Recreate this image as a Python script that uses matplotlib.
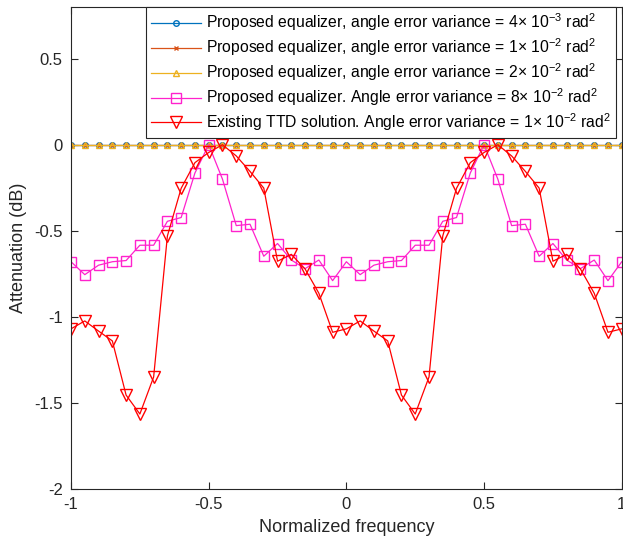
import numpy as np
import matplotlib
matplotlib.use("Agg")
import matplotlib.pyplot as plt

plt.rcParams["font.family"] = ["Liberation Sans", "DejaVu Sans"]
plt.rcParams["mathtext.fontset"] = "custom"
plt.rcParams["mathtext.rm"] = "Liberation Sans"
plt.rcParams["mathtext.it"] = "Liberation Sans:italic"

# normalized frequency grid, step 0.05
freq = np.round(np.arange(-1, 1.0001, 0.05), 2)

# one period (20 samples) of each curve, repeated over [-1, 1]
period_mag = [-0.68, -0.755, -0.70, -0.68, -0.673, -0.584, -0.584, -0.445, -0.423, -0.164,
              0.0, -0.20, -0.47, -0.462, -0.648, -0.574, -0.67, -0.72, -0.67, -0.79]
period_ttd = [-1.07, -1.024, -1.083, -1.14, -1.455, -1.565, -1.35, -0.53, -0.253, -0.104,
              -0.045, 0.0, -0.065, -0.155, -0.252, -0.677, -0.637, -0.722, -0.863, -1.09]
eq_var8 = period_mag * 2 + [period_mag[0]]
ttd_var1 = period_ttd * 2 + [period_ttd[0]]
eq_var04 = [0.0] * len(freq)
eq_var1 = [0.0] * len(freq)
eq_var2 = [0.0] * len(freq)

labels = [
    r"Proposed equalizer, angle error variance = 4$\times$ 10$^{-3}$ rad$^2$",
    r"Proposed equalizer, angle error variance = 1$\times$ 10$^{-2}$ rad$^2$",
    r"Proposed equalizer, angle error variance = 2$\times$ 10$^{-2}$ rad$^2$",
    r"Proposed equalizer. Angle error variance = 8$\times$ 10$^{-2}$ rad$^2$",
    r"Existing TTD solution. Angle error variance = 1$\times$ 10$^{-2}$ rad$^2$",
]

fig = plt.figure(figsize=(6.23, 5.45), dpi=100)
ax = fig.add_axes([0.114, 0.103, 0.884, 0.884])

ax.plot(freq, eq_var04, color="#0072BD", marker="o", ms=4, mfc="none", lw=0.9, label=labels[0])
ax.plot(freq, eq_var1, color="#D95319", marker="x", ms=3.5, lw=0.9, label=labels[1])
ax.plot(freq, eq_var2, color="#EDB120", marker="^", ms=4.5, mfc="none", lw=0.9, label=labels[2])
ax.plot(freq, eq_var8, color="#FF22CC", marker="s", ms=7, mfc="none", lw=0.9, label=labels[3])
ax.plot(freq, ttd_var1, color="#FF0000", marker="v", ms=9, mfc="none", lw=0.9, label=labels[4])

ax.set_xlim(-1, 1)
ax.set_ylim(-2, 0.8)
ax.set_xticks([-1, -0.5, 0, 0.5, 1])
ax.set_xticklabels(["-1", "-0.5", "0", "0.5", "1"])
ax.set_yticks([-2, -1.5, -1, -0.5, 0, 0.5])
ax.set_yticklabels(["-2", "-1.5", "-1", "-0.5", "0", "0.5"])
ax.tick_params(direction="in", top=True, right=True, labelsize=12, colors="#262626",
               length=5, width=0.8, pad=6)
for s in ax.spines.values():
    s.set_color("#262626")
    s.set_linewidth(0.8)

ax.set_xlabel("Normalized frequency", fontsize=13, color="#262626", labelpad=5)
ax.set_ylabel("Attenuation (dB)", fontsize=13, color="#262626", labelpad=5)

leg = ax.legend(loc="upper right", bbox_to_anchor=(0.989, 1.0), fontsize=11.3, numpoints=1,
                handlelength=3.2, fancybox=False, framealpha=1, edgecolor="#262626",
                borderaxespad=0.0, labelspacing=0.2, borderpad=0.3, handletextpad=0.3)
leg.get_frame().set_linewidth(0.8)

fig.savefig("out.png", dpi=100)
